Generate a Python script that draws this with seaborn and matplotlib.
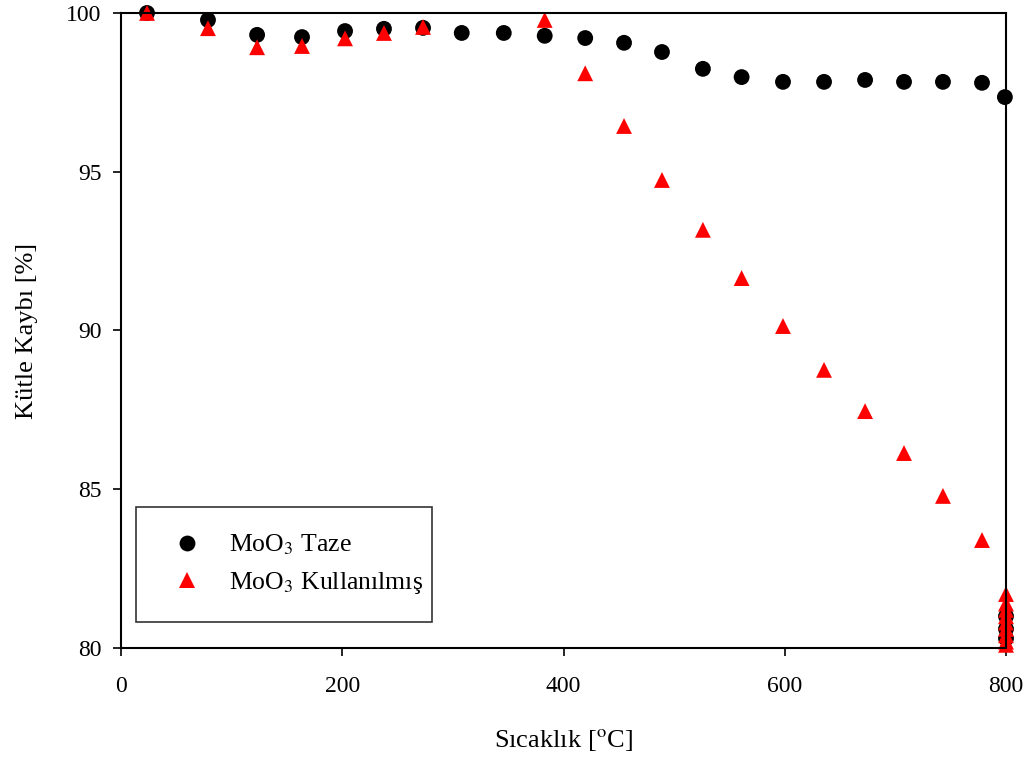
import pandas as pd
import matplotlib.pyplot as plt
import seaborn as sns

# values
taze_x = [23.5, 78.6, 123, 163.6, 202.5, 237.7, 273, 308, 346, 383, 419.6, 454.7,
          489, 526, 561, 598.4, 635.5, 672.6, 707.8, 743, 778.3, 799,
          800, 800, 800]
taze_y = [100.0, 99.78, 99.31, 99.24, 99.43, 99.5, 99.53, 99.37, 99.37, 99.28, 99.21, 99.06,
          98.77, 98.24, 97.98, 97.83, 97.83, 97.89, 97.83, 97.83, 97.8, 97.35,
          81.0, 80.6, 80.3]

kull_x = [23.5, 78.6, 123, 163.6, 202.5, 237.7, 273, 383, 419.6, 454.7, 489, 526,
          561, 598.4, 635.5, 672.6, 707.8, 743, 778.3,
          800, 800, 800, 800, 800, 800, 800, 800, 800]
kull_y = [100.0, 99.52, 98.92, 98.96, 99.2, 99.37, 99.56, 99.78, 98.1, 96.44, 94.74, 93.17,
          91.65, 90.14, 88.76, 87.46, 86.14, 84.79, 83.4,
          81.7, 81.4, 81.2, 81.0, 80.8, 80.6, 80.4, 80.2, 80.1]

series_names = ['MoO$_3$ Taze', 'MoO$_3$ Kullanılmış']

sns.set_theme(style="white")
plt.rcParams['font.family'] = ['Liberation Serif', 'DejaVu Serif']
plt.rcParams['mathtext.fontset'] = 'stix'

df = pd.concat([
    pd.DataFrame({'x': taze_x, 'y': taze_y, 'seri': series_names[0]}),
    pd.DataFrame({'x': kull_x, 'y': kull_y, 'seri': series_names[1]}),
], ignore_index=True)

fig = plt.figure(figsize=(10.3, 7.62), dpi=100)
ax = fig.add_axes([0.1175, 0.1496, 0.8592, 0.8334])

sns.scatterplot(
    data=df, x='x', y='y', hue='seri', style='seri',
    palette={series_names[0]: 'black', series_names[1]: '#ff0000'},
    markers={series_names[0]: 'o', series_names[1]: '^'},
    s=130, linewidth=0, clip_on=False, ax=ax,
)

ax.set_xlim(0, 800)
ax.set_ylim(80, 100)
ax.set_xticks([0, 200, 400, 600, 800])
ax.set_yticks([80, 85, 90, 95, 100])
ax.tick_params(axis='both', direction='out', length=6, width=1.2, colors='black',
               labelsize=17, pad=8, bottom=True, left=True, top=False, right=False)
ax.tick_params(axis='x', pad=14)
for sp in ax.spines.values():
    sp.set_color('black')
    sp.set_linewidth(1.5)

ax.set_xlabel('Sıcaklık [$^{\\rm o}$C]', fontsize=19, labelpad=22, color='black')
ax.set_ylabel('Kütle Kaybı [%]', fontsize=19, labelpad=20, color='black')

leg = ax.legend(loc='lower left', bbox_to_anchor=(0.017, 0.041, 0.334, 0.175),
                mode='expand', fontsize=18.5, frameon=True, fancybox=False,
                borderpad=1.0, handletextpad=0.6, labelspacing=0.5,
                borderaxespad=0, markerscale=1.0, labelcolor='black')
leg.get_frame().set_edgecolor('black')
leg.get_frame().set_linewidth(1.2)
leg.set_title(None)

fig.savefig('out.png', dpi=100)
